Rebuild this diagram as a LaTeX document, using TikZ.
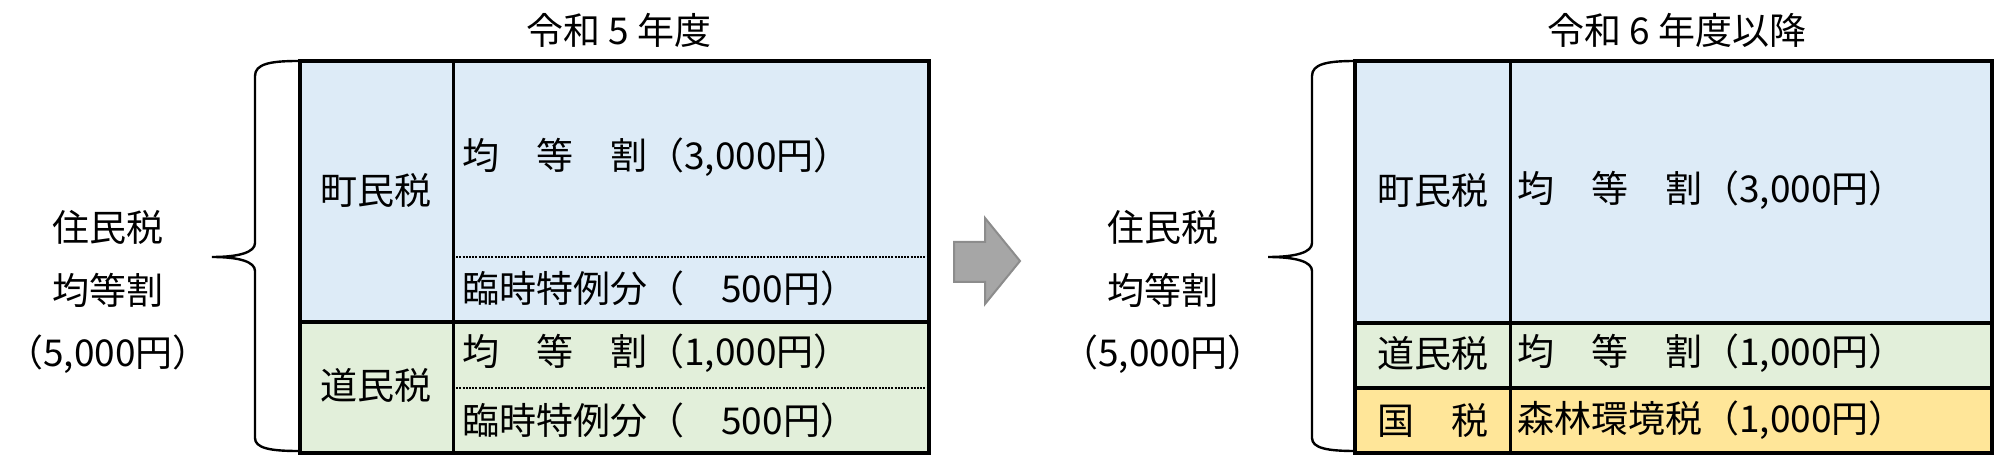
\documentclass[tikz,border=0pt]{standalone}
\usepackage{fontspec}
\setmainfont{Noto Sans CJK JP}
\definecolor{cellblue}{HTML}{DDEBF7}
\definecolor{cellgreen}{HTML}{E2EFDA}
\definecolor{cellyellow}{HTML}{FFE699}
\definecolor{arrowfill}{HTML}{A6A6A6}
\definecolor{arrowline}{HTML}{8C8C8C}
\begin{document}
\begin{tikzpicture}[x=0.5pt,y=-0.5pt,
  txt/.style={inner sep=0pt, font=\fontsize{18.5}{22}\selectfont},
  lefttxt/.style={txt, anchor=west},
  outerline/.style={line width=2pt},
  innerline/.style={line width=1.5pt},
  dotline/.style={line width=1pt, dash pattern=on 1pt off 0.6pt},
  bracestyle/.style={line width=1.2pt}
]
\useasboundingbox (0,0) rectangle (2000,459);

% ---------- left table (R5) ----------
\fill[cellblue]  (300,61) rectangle (929,322);
\fill[cellgreen] (300,322) rectangle (929,453);
\draw[dotline] (453,257) -- (929,257);
\draw[dotline] (453,388) -- (929,388);
\draw[outerline] (300,322) -- (929,322);
\draw[innerline] (453,61) -- (453,453);
\draw[outerline] (300,61) rectangle (929,453);

\node[txt] (t1) at (619,30) {令和 5 年度};
\node[txt] (a1) at (376,190) {町民税};
\node[lefttxt] (a2) at (462,157) {均　等　割（3,000円）};
\node[lefttxt] (a3) at (462,288) {臨時特例分（　500円）};
\node[txt] (a4) at (376,385) {道民税};
\node[lefttxt] (a5) at (462,353) {均　等　割（1,000円）};
\node[lefttxt] (a6) at (462,420) {臨時特例分（　500円）};

% left labels
\node[txt] (l1) at (108,227) {住民税};
\node[txt] (l2) at (108,290) {均等割};
\node[txt] (l3) at (108,354) {（5,000円）};

% left brace
\draw[bracestyle] (298,61) .. controls (270,61) and (255,64) .. (255,76)
  -- (255,243) .. controls (255,252) and (240,257) .. (212,257)
  .. controls (240,257) and (255,262) .. (255,271)
  -- (255,438) .. controls (255,448) and (270,451) .. (298,451);

% ---------- arrow ----------
\draw[fill=arrowfill, draw=arrowline, line width=1pt]
  (954,242) -- (985,242) -- (985,218) -- (1020,261) -- (985,304) -- (985,282) -- (954,282) -- cycle;

% ---------- right table (R6) ----------
\fill[cellblue]   (1355,61) rectangle (1992,323);
\fill[cellgreen]  (1355,323) rectangle (1992,388);
\fill[cellyellow] (1355,388) rectangle (1992,453);
\draw[outerline] (1355,323) -- (1992,323);
\draw[outerline] (1355,388) -- (1992,388);
\draw[innerline] (1510,61) -- (1510,453);
\draw[outerline] (1355,61) rectangle (1992,453);

\node[txt] (t2) at (1677,30) {令和 6 年度以降};
\node[txt] (b1) at (1433,190) {町民税};
\node[lefttxt] (b2) at (1517,190) {均　等　割（3,000円）};
\node[txt] (b3) at (1433,353) {道民税};
\node[lefttxt] (b4) at (1517,353) {均　等　割（1,000円）};
\node[txt] (b5) at (1433,420) {国　税};
\node[lefttxt] (b6) at (1517,420) {森林環境税（1,000円）};

% right labels
\node[txt] (r1) at (1163,227) {住民税};
\node[txt] (r2) at (1163,290) {均等割};
\node[txt] (r3) at (1163,354) {（5,000円）};

% right brace
\draw[bracestyle] (1355,61) .. controls (1327,61) and (1312,64) .. (1312,76)
  -- (1312,243) .. controls (1312,252) and (1297,257) .. (1268,257)
  .. controls (1297,257) and (1312,262) .. (1312,271)
  -- (1312,438) .. controls (1312,448) and (1327,451) .. (1355,451);
\end{tikzpicture}
\end{document}
